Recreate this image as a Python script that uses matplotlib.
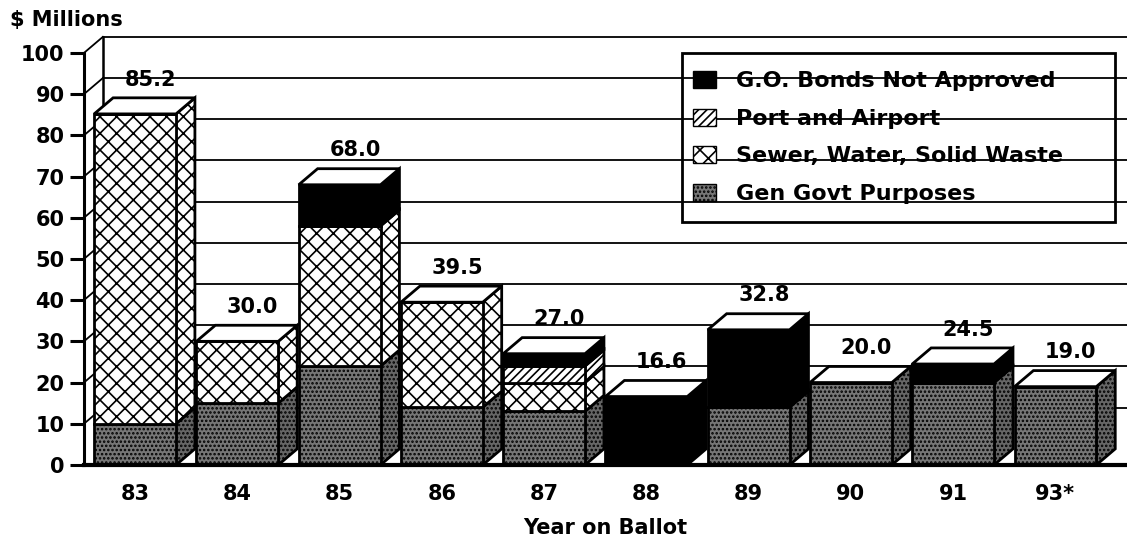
import numpy as np
import matplotlib.pyplot as plt
from matplotlib.patches import Polygon, Patch, Rectangle

years = ['83', '84', '85', '86', '87', '88', '89', '90', '91', '93*']
gen_govt = [10.0, 15.0, 24.0, 14.0, 13.0, 0.0, 14.0, 20.0, 20.0, 19.0]
sewer    = [75.2, 15.0, 34.0, 25.5, 7.0, 0.0, 0.0, 0.0, 0.0, 0.0]
port     = [0.0, 0.0, 0.0, 0.0, 4.0, 0.0, 0.0, 0.0, 0.0, 0.0]
not_appr = [0.0, 0.0, 10.0, 0.0, 3.0, 16.6, 18.8, 0.0, 4.5, 0.0]
totals   = ['85.2', '30.0', '68.0', '39.5', '27.0', '16.6', '32.8', '20.0', '24.5', '19.0']

plt.rcParams['font.family'] = ['DejaVu Sans']
plt.rcParams['font.weight'] = 'bold'
plt.rcParams['hatch.linewidth'] = 1.2

FS = 15

fig = plt.figure(figsize=(11.27, 5.4), dpi=100, facecolor='white')
ax = fig.add_axes([0.0745, 0.139, 0.9255, 0.763])
ax.set_xlim(-0.5, 9.7)
ax.set_ylim(0, 100)
for s in ax.spines.values():
    s.set_visible(False)

dx, dy = 0.185, 3.9   # depth offset of the 3D look
w = 0.80
x0 = -0.5
xr = 9.7

# back wall grid + left wall
for v in range(10, 101, 10):
    ax.plot([x0 + dx, xr], [v + dy, v + dy], color='k', lw=1.3, zorder=1, clip_on=False)
    ax.plot([x0, x0 + dx], [v, v + dy], color='k', lw=1.3, zorder=1, clip_on=False)
ax.plot([x0 + dx, x0 + dx], [dy, 100 + dy], color='k', lw=1.8, zorder=1, clip_on=False)
ax.plot([x0, x0], [0, 100], color='k', lw=2.2, zorder=6, clip_on=False)
ax.plot([x0, xr], [0, 0], color='k', lw=3.0, zorder=6, clip_on=False)

# segments: (values, face, hatch, side face)
styles = [
    (gen_govt, '#767676', '....', '#666666'),
    (sewer, 'white', 'xx', 'white'),
    (port, 'white', '////', 'white'),
    (not_appr, 'black', None, 'black'),
]

xs = np.arange(len(years))
bottom = np.zeros(len(years))
for vals, fc, hatch, sc in styles:
    vals = np.array(vals)
    ax.bar(xs, vals, width=w, bottom=bottom, color=fc, hatch=hatch,
           edgecolor='k', linewidth=2.0, zorder=4)
    for i, x in enumerate(xs):
        if vals[i] <= 0:
            continue
        b, t = bottom[i], bottom[i] + vals[i]
        xe = x + w / 2
        ax.add_patch(Polygon([(xe, b), (xe + dx, b + dy), (xe + dx, t + dy), (xe, t)],
                             closed=True, facecolor=sc, hatch=hatch, edgecolor='k',
                             linewidth=2.0, zorder=3))
    bottom = bottom + vals

# top faces and value labels
for i, x in enumerate(xs):
    T = bottom[i]
    ax.add_patch(Polygon([(x - w / 2, T), (x - w / 2 + dx, T + dy), (x + w / 2 + dx, T + dy), (x + w / 2, T)],
                         closed=True, facecolor='white', edgecolor='k', linewidth=2.0, zorder=5))
    ax.text(x + 0.15, T + dy + 2.0, totals[i], ha='center', va='bottom',
            fontsize=FS, fontweight='bold', zorder=7)

ax.set_yticks(range(0, 101, 10))
ax.set_yticklabels([str(v) for v in range(0, 101, 10)], fontsize=FS, fontweight='bold')
ax.tick_params(axis='y', length=10, width=2.2, pad=4)
ax.set_xticks(xs)
ax.set_xticklabels(years, fontsize=FS, fontweight='bold')
ax.tick_params(axis='x', length=0, pad=14)
ax.set_xlabel('Year on Ballot', fontsize=FS, fontweight='bold', labelpad=10)

fig.text(0.009, 0.963, '$ Millions', fontsize=FS, fontweight='bold', ha='left', va='center')

handles = [
    Patch(facecolor='black', edgecolor='k', label='G.O. Bonds Not Approved'),
    Patch(facecolor='white', edgecolor='k', hatch='////', label='Port and Airport'),
    Patch(facecolor='white', edgecolor='k', hatch='xx', label='Sewer, Water, Solid Waste'),
    Patch(facecolor='#767676', edgecolor='k', hatch='....', label='Gen Govt Purposes'),
]
leg = ax.legend(handles=handles, loc='upper left', bbox_to_anchor=(693 / 1127, 1 - 71 / 540),
                bbox_transform=fig.transFigure, frameon=False, fontsize=16,
                handlelength=1.05, handleheight=0.8, labelspacing=0.78,
                borderpad=0, borderaxespad=0, handletextpad=0.9)
leg.set_zorder(8)
fig.patches.append(Rectangle((682 / 1127, 1 - 222 / 540), 433 / 1127, 169 / 540,
                             transform=fig.transFigure, fill=False, edgecolor='k',
                             linewidth=2.0, zorder=8))

plt.savefig('out.png', dpi=100)
